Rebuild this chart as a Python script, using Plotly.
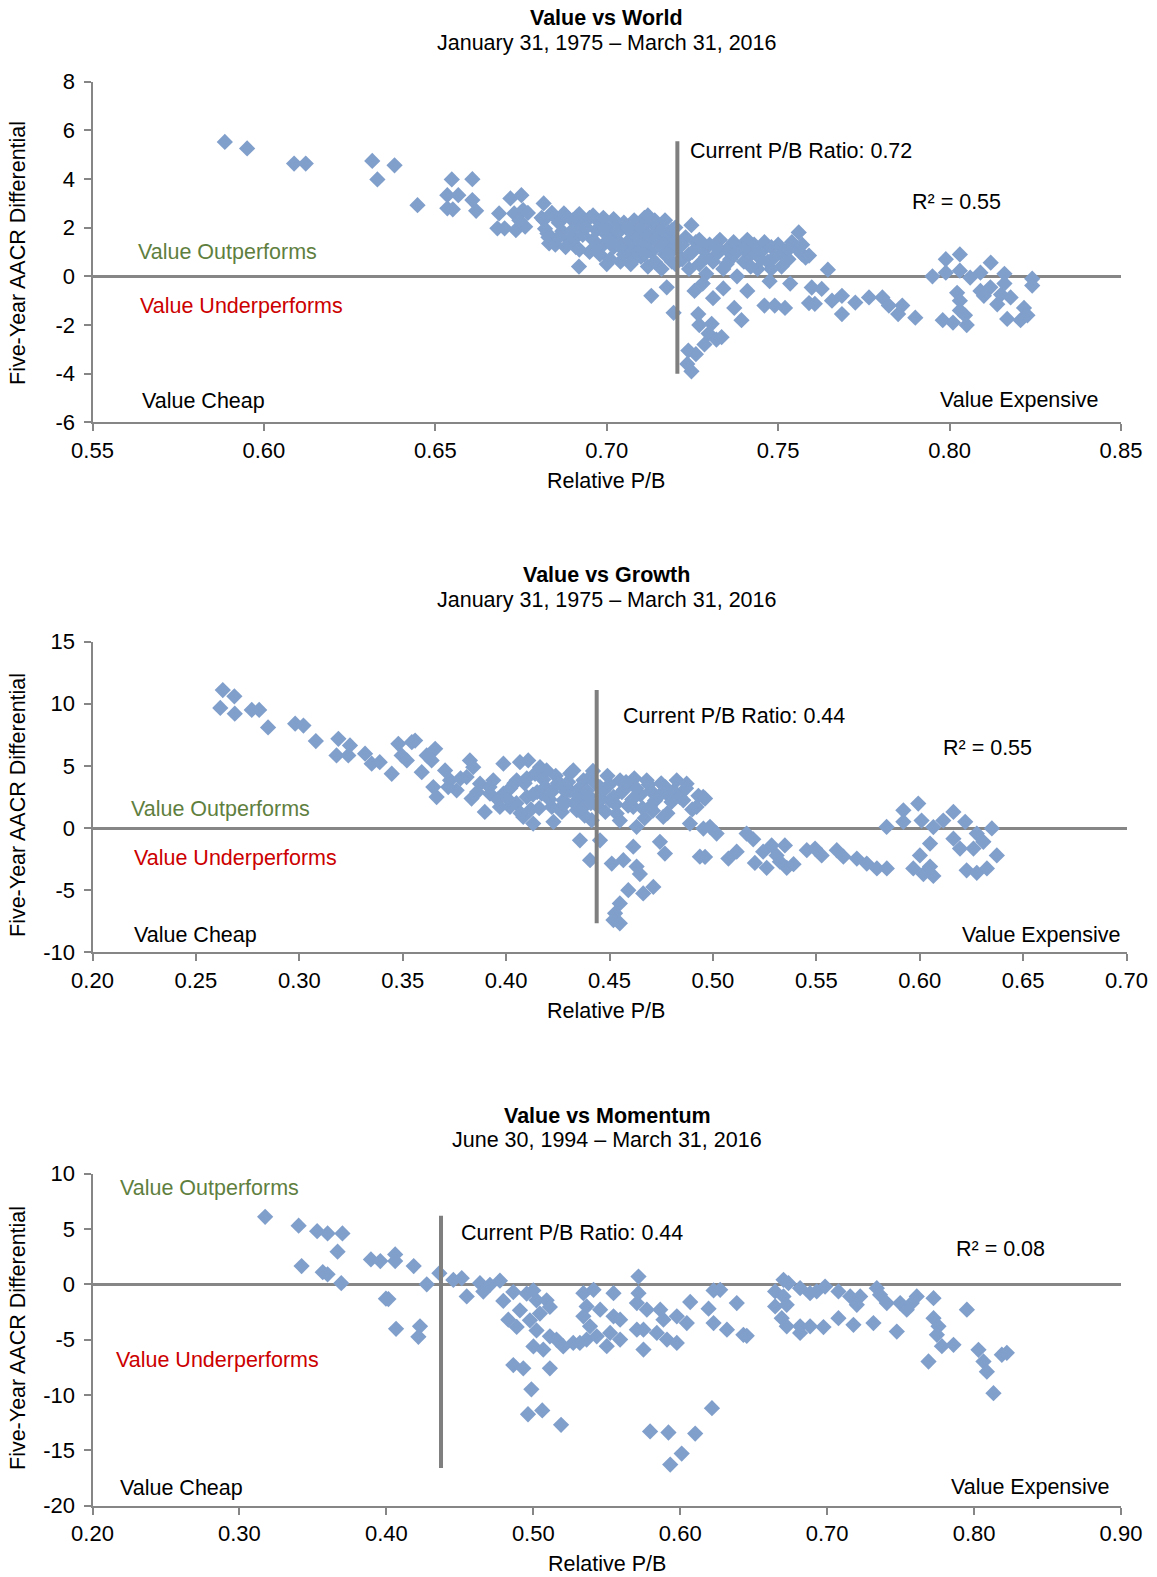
import plotly.graph_objects as go

W, H = 1157, 1577

# ---------------- Data: Value vs World ----------------
world_x = [0.5886, 0.5951, 0.6088, 0.6122, 0.6316, 0.6331, 0.6381, 0.6448, 0.6535, 0.6548,
           0.6567, 0.6535, 0.6551, 0.6608, 0.6608, 0.6619, 0.6681, 0.6686, 0.6719, 0.6751,
           0.6702, 0.6735, 0.673, 0.6762, 0.6756, 0.6745, 0.677, 0.6816, 0.6816, 0.6827,
           0.6832, 0.6848, 0.6875, 0.6902, 0.6913, 0.6919,
           0.681, 0.682, 0.683, 0.684, 0.685, 0.686, 0.687, 0.688, 0.689, 0.690,
           0.690, 0.691, 0.692, 0.693, 0.693, 0.695, 0.695, 0.696, 0.697, 0.698,
           0.698, 0.699, 0.700, 0.700, 0.701, 0.702, 0.702, 0.703, 0.704, 0.704,
           0.705, 0.705, 0.706, 0.707, 0.707, 0.708, 0.708, 0.709, 0.710, 0.710,
           0.711, 0.711, 0.712, 0.712, 0.713, 0.713, 0.714, 0.714, 0.715, 0.715,
           0.716, 0.716, 0.717, 0.717, 0.718, 0.718, 0.719, 0.719, 0.720, 0.720,
           0.694, 0.696, 0.699, 0.701, 0.703, 0.706, 0.709, 0.711, 0.714, 0.716,
           0.718, 0.720, 0.719, 0.717, 0.712, 0.708, 0.704, 0.700, 0.697, 0.692,
           0.688, 0.686,
           0.713, 0.7175, 0.7195,
           0.721, 0.722, 0.723, 0.724, 0.7247, 0.725, 0.726, 0.727, 0.728, 0.729,
           0.730, 0.731, 0.732, 0.733, 0.734, 0.735, 0.736, 0.737, 0.738, 0.739,
           0.740, 0.741, 0.742, 0.743, 0.744, 0.745, 0.746, 0.747, 0.748, 0.749,
           0.750, 0.751, 0.752, 0.753, 0.754, 0.755, 0.756, 0.757, 0.758, 0.759, 0.7645,
           0.722, 0.724, 0.727, 0.729, 0.732, 0.735, 0.738, 0.742, 0.745, 0.748,
           0.751, 0.753, 0.757, 0.740,
           0.7256, 0.7267, 0.7306, 0.7335, 0.7285, 0.7238, 0.7247, 0.7297, 0.7372, 0.7393,
           0.746, 0.749, 0.752, 0.7475, 0.7535, 0.759, 0.728, 0.731, 0.734, 0.741,
           0.727, 0.732, 0.726, 0.7235,
           0.7598, 0.7627, 0.7607, 0.7657, 0.7686, 0.7725, 0.7765, 0.7804, 0.7823, 0.7862,
           0.790, 0.7686, 0.785,
           0.795, 0.7989, 0.803, 0.7989, 0.803, 0.806, 0.809, 0.812, 0.816, 0.8241,
           0.8241, 0.8022, 0.803, 0.803, 0.798, 0.801, 0.805, 0.8045, 0.809, 0.8119,
           0.815, 0.816, 0.8139, 0.8178, 0.8168, 0.8217, 0.8207, 0.8227, 0.810]
world_y = [5.52, 5.25, 4.63, 4.63, 4.74, 3.98, 4.56, 2.92, 3.33, 3.98,
           3.33, 2.79, 2.75, 3.99, 3.13, 2.69, 1.97, 2.58, 3.2, 3.33,
           1.97, 1.9, 2.58, 2.04, 2.72, 2.3, 2.6, 2.99, 2.31, 1.76,
           1.35, 2.45, 2.58, 1.49, 2.45, 0.4,
           2.4, 1.95, 1.6, 2.6, 1.3, 2.2, 1.85, 2.5, 1.5, 2.3,
           1.9, 1.2, 2.55, 1.7, 2.1, 1.0, 2.4, 1.5, 1.9, 0.9,
           2.2, 1.3, 1.7, 2.0, 0.7, 2.35, 1.2, 1.5, 0.6, 1.9,
           2.2, 0.9, 1.4, 1.8, 0.5, 2.3, 1.1, 1.6, 2.0, 0.8,
           1.3, 2.4, 0.4, 1.7, 2.2, 1.0, 1.5, 0.6, 1.9, 2.1,
           1.2, 0.3, 1.6, 0.9, 1.3, 1.8, 0.6, 1.1, 1.5, 0.5,
           2.0, 2.5, 2.4, 1.4, 1.9, 2.0, 1.0, 0.9, 2.3, 1.9,
           0.9, 2.0, 1.9, 2.3, 2.5, 0.7, 1.2, 0.5, 1.2, 1.1,
           1.2, 1.6,
           -0.8, -0.45, -1.5,
           1.2, 0.7, 1.6, 0.3, 2.1, 1.0, 1.4, 0.5, 1.1, 0.1,
           1.3, 0.6, 0.9, 1.5, 0.3, 1.1, 0.7, 1.4, 0.0, 1.2,
           0.6, 1.5, 0.9, 1.3, 0.3, 1.0, 1.4, 0.6, 1.2, 0.8,
           1.3, 0.4, 1.0, 0.7, 1.4, 1.2, 1.8, 0.9, 0.77, 0.85, 0.27,
           1.3, 0.9, 1.5, 0.8, 1.2, 0.5, 1.0, 0.4, 0.7, 0.3,
           0.9, 1.1, 1.3, 1.1,
           -0.6, -1.55, -1.95, -2.5, -2.8, -3.05, -3.9, -2.35, -1.3, -1.8,
           -1.2, -1.2, -1.3, -0.2, -0.3, -1.1, -0.3, -0.9, -0.5, -0.6,
           -2.0, -2.6, -3.2, -3.6,
           -0.46, -0.52, -1.13, -1.0, -0.8, -1.08, -0.87, -0.87, -1.2, -1.2,
           -1.7, -1.55, -1.55,
           0.0, 0.7, 0.9, 0.15, 0.23, -0.05, 0.15, 0.56, 0.1, -0.1,
           -0.38, -0.68, -1.0, -1.4, -1.8, -1.9, -2.0, -1.6, -0.6, -0.45,
           -0.75, -0.3, -1.15, -0.87, -1.75, -1.3, -1.8, -1.6, -0.8]

# ---------------- Data: Value vs Growth ----------------
growth_x = [0.263, 0.2686, 0.2618, 0.2688, 0.277, 0.2806, 0.2849, 0.298,
            0.302, 0.308, 0.3189, 0.318, 0.3245, 0.3237, 0.3318, 0.335, 0.3389, 0.3447,
            0.3479, 0.3495, 0.3544, 0.356, 0.352, 0.3592, 0.3616, 0.3657, 0.364, 0.3664,
            0.3648, 0.3705, 0.3761, 0.3729, 0.3825, 0.3841, 0.3809, 0.3874, 0.3833, 0.3897,
            0.3922, 0.3938, 0.3987, 0.3987, 0.4019, 0.397, 0.4067, 0.4107, 0.4051, 0.41,
            0.4083, 0.4131, 0.414, 0.4164, 0.4196, 0.4172, 0.4221, 0.4229, 0.4261, 0.4277,
            0.4325, 0.4309, 0.4342, 0.4374, 0.4406, 0.4382, 0.4414, 0.4357, 0.4406, 0.4454,
            0.4454, 0.4502, 0.4551, 0.4535, 0.4511, 0.4567, 0.4615, 0.4631, 0.4647, 0.4712,
            0.4663, 0.4591, 0.455, 0.4527, 0.4519, 0.455, 0.46, 0.4615, 0.4631, 0.468,
            0.4696, 0.4744, 0.4768, 0.476, 0.4776, 0.4825, 0.4857, 0.4873, 0.4889, 0.4921,
            0.4937, 0.4953, 0.4986,
            0.372, 0.378, 0.386, 0.392, 0.396, 0.402, 0.405, 0.409, 0.412, 0.415,
            0.418, 0.421, 0.424, 0.427, 0.429, 0.431, 0.433, 0.436, 0.438, 0.440,
            0.442, 0.444, 0.447, 0.449, 0.452, 0.455, 0.457, 0.459, 0.462, 0.465,
            0.467, 0.470, 0.472, 0.475, 0.478, 0.481, 0.484, 0.487, 0.490, 0.493,
            0.401, 0.404, 0.407, 0.410, 0.413, 0.416, 0.419, 0.422, 0.425, 0.428,
            0.430, 0.434, 0.437, 0.439, 0.441, 0.443, 0.446, 0.448, 0.450, 0.453,
            0.456, 0.458, 0.461, 0.463, 0.466, 0.469, 0.471, 0.474, 0.477, 0.480,
            0.4962, 0.4954, 0.5018, 0.4962, 0.5075, 0.5115, 0.5163, 0.5195, 0.5203, 0.5243,
            0.526, 0.5284, 0.5308, 0.5348, 0.5357, 0.539, 0.5324, 0.5454, 0.5494, 0.5526,
            0.5599, 0.5631, 0.5696, 0.5744, 0.5793, 0.5841, 0.584, 0.5921, 0.5921, 0.5993,
            0.6009, 0.6066, 0.6114, 0.6163, 0.622, 0.6276, 0.6349, 0.6308, 0.6163, 0.6195,
            0.626, 0.6373, 0.6227, 0.6276, 0.6325, 0.605, 0.6001, 0.5969, 0.6018, 0.6066,
            0.605]
growth_y = [11.1, 10.6, 9.66, 9.2, 9.5, 9.5, 8.1, 8.4,
            8.25, 7.0, 7.18, 5.84, 6.65, 5.84, 5.98, 5.18, 5.3, 4.37,
            6.78, 5.84, 6.91, 7.04, 5.44, 4.5, 5.84, 6.38, 5.44, 2.5,
            3.3, 4.64, 3.04, 3.84, 5.44, 4.9, 4.1, 3.57, 2.37, 1.3,
            2.77, 3.84, 5.18, 2.77, 1.7, 1.7, 5.3, 5.44, 3.84, 2.5,
            0.9, 0.36, 4.37, 4.9, 4.64, 2.77, 1.7, 0.5, 3.57, 2.23,
            4.64, 3.04, 1.44, 3.84, 4.1, 2.23, 0.63, -0.98, -2.58, -0.98,
            3.3, 2.23, 3.84, 1.17, -2.85, -2.58, -1.5, -3.1, -3.7, -4.73,
            -5.26, -5.0, -6.06, -6.86, -7.4, -7.66, 3.57, 1.7, 0.1, 3.84,
            1.7, -1.1, -2.05, 0.9, 2.77, 3.84, 2.23, 3.57, 0.36, 1.7,
            -2.3, 2.5, 0.1,
            3.3, 4.0, 2.9, 3.3, 2.3, 3.2, 2.0, 3.6, 1.5, 2.9,
            3.9, 2.3, 4.2, 1.3, 2.9, 4.4, 2.0, 3.3, 1.0, 2.6,
            4.6, 1.8, 3.0, 4.2, 2.5, 0.6, 3.1, 1.8, 4.0, 2.7,
            0.8, 3.0, 2.2, 3.6, 1.2, 3.0, 2.5, 3.2, 1.5, 2.6,
            2.3, 3.6, 1.2, 4.0, 2.7, 1.6, 3.3, 2.9, 3.6, 1.9,
            3.7, 2.7, 1.6, 3.0, 2.0, 3.6, 2.3, 1.3, 3.5, 1.9,
            2.9, 3.7, 2.3, 3.2, 1.6, 3.5, 1.4, 2.6, 3.3, 2.1,
            2.37, -0.04, -0.44, -2.32, -2.45, -1.9, -0.44, -0.9, -2.8, -1.9,
            -3.2, -1.4, -2.2, -1.4, -3.2, -2.9, -2.7, -1.78, -1.65, -2.2,
            -1.78, -2.3, -2.45, -2.85, -3.25, -3.25, 0.09, 1.43, 0.5, 1.97,
            0.6, 0.08, 0.6, 1.3, 0.5, -0.44, -0.03, -1.1, -0.85, -1.65,
            -1.65, -2.2, -3.4, -3.6, -3.25, -1.25, -2.2, -3.25, -3.7, -3.85,
            -3.1]

# ---------------- Data: Value vs Momentum ----------------
mom_x = [0.3175, 0.3403, 0.3529, 0.36, 0.3701, 0.3668, 0.3423, 0.3567, 0.36, 0.3693,
         0.3895, 0.3959, 0.3997, 0.406, 0.406, 0.4186,
         0.4014, 0.4066, 0.4229, 0.4218, 0.4275, 0.4361, 0.4456, 0.4513, 0.4547, 0.4637,
         0.466, 0.4705, 0.4773, 0.4796, 0.483, 0.4864, 0.4909, 0.4887, 0.4955, 0.5,
         0.5022, 0.5045, 0.5091, 0.5113, 0.4977, 0.5022, 0.5001, 0.5068, 0.5113, 0.5158,
         0.5204, 0.5272, 0.5317, 0.5363, 0.4864, 0.4932, 0.5113, 0.4987, 0.4964, 0.5061,
         0.5189, 0.5341, 0.541, 0.5546, 0.5363, 0.5341, 0.5386, 0.5455, 0.5546, 0.5523,
         0.5591, 0.5591, 0.55, 0.5432, 0.5716, 0.5716, 0.5705, 0.5773, 0.5864, 0.5886,
         0.575, 0.5705, 0.575, 0.5841, 0.591, 0.5977, 0.6045, 0.5977, 0.6068, 0.6193,
         0.6227, 0.6227, 0.5795, 0.592, 0.6102, 0.601, 0.5932, 0.6216,
         0.6272, 0.6385, 0.6318, 0.643, 0.6453, 0.6703, 0.6737, 0.6646, 0.6703, 0.6646,
         0.6725, 0.6691, 0.6725, 0.6816, 0.6884, 0.6929, 0.6986, 0.6816, 0.6816, 0.6884,
         0.6975, 0.7077, 0.7157, 0.7077, 0.7179, 0.7225, 0.7202, 0.7315, 0.7338, 0.736,
         0.7406, 0.7474, 0.7497, 0.7542, 0.761, 0.7576, 0.7724, 0.769, 0.7724, 0.7758,
         0.7747, 0.7781, 0.786, 0.7951, 0.803, 0.8064, 0.8087, 0.8132, 0.8189, 0.8223]
mom_y = [6.1, 5.3, 4.8, 4.6, 4.6, 2.95, 1.65, 1.1, 0.9, 0.1,
         2.25, 2.1, -1.3, 2.7, 2.1, 1.65,
         -1.34, -4.02, -3.8, -4.75, 0.0, 1.0, 0.4, 0.55, -1.1, 0.1,
         -0.66, -0.05, 0.33, -1.5, -3.2, -0.7, -2.35, -3.86, -0.85, -0.55,
         -1.45, -2.65, -1.45, -2.05, -3.26, -4.17, -5.62, -5.9, -4.7, -5.0,
         -5.62, -5.3, -5.3, -5.0, -7.3, -7.6, -7.6, -9.5, -11.75, -11.4,
         -12.7, -0.8, -0.5, -0.8, -2.0, -2.9, -3.8, -2.3, -2.9, -4.4,
         -3.2, -5.0, -5.6, -4.7, 0.7, -0.8, -1.7, -2.3, -2.3, -3.2,
         -4.1, -4.1, -5.9, -4.4, -5.0, -2.9, -3.5, -5.3, -1.6, -2.2,
         -0.55, -3.5, -13.3, -13.4, -13.5, -15.3, -16.3, -11.2,
         -0.5, -1.7, -4.1, -4.57, -4.66, 0.41, 0.1, -0.65, -1.1, -2.0,
         -1.85, -3.06, -3.8, -0.35, -0.8, -0.65, -0.2, -3.8, -4.4, -3.8,
         -3.87, -0.65, -1.1, -3.06, -3.66, -1.1, -1.85, -3.5, -0.35, -0.95,
         -1.7, -4.27, -1.7, -2.3, -1.1, -1.7, -1.25, -6.98, -3.06, -3.8,
         -4.57, -5.6, -5.47, -2.3, -5.92, -6.98, -7.9, -9.84, -6.37, -6.2]

# current P/B marker lines (x value, y extent)
current_pb = [0.7206, 0.4438, 0.4372]
current_line_y = [[5.55, -4.0], [11.1, -7.66], [6.2, -16.6]]

titles = ["Value vs World", "Value vs Growth", "Value vs Momentum"]
subtitles = ["January 31, 1975 \u2013 March 31, 2016",
             "January 31, 1975 \u2013 March 31, 2016",
             "June 30, 1994 \u2013 March 31, 2016"]
current_labels = ["Current P/B Ratio: 0.72", "Current P/B Ratio: 0.44", "Current P/B Ratio: 0.44"]
r2_labels = ["R\u00b2 = 0.55", "R\u00b2 = 0.55", "R\u00b2 = 0.08"]

x_ranges = [[0.55, 0.85], [0.20, 0.70], [0.20, 0.90]]
y_ranges = [[-6, 8], [-10, 15], [-20, 10]]
x_tickvals = [[0.55, 0.60, 0.65, 0.70, 0.75, 0.80, 0.85],
              [0.20, 0.25, 0.30, 0.35, 0.40, 0.45, 0.50, 0.55, 0.60, 0.65, 0.70],
              [0.20, 0.30, 0.40, 0.50, 0.60, 0.70, 0.80, 0.90]]
x_ticktext = [["0.55", "0.60", "0.65", "0.70", "0.75", "0.80", "0.85"],
              ["0.20", "0.25", "0.30", "0.35", "0.40", "0.45", "0.50", "0.55", "0.60", "0.65", "0.70"],
              ["0.20", "0.30", "0.40", "0.50", "0.60", "0.70", "0.80", "0.90"]]
y_tickvals = [[-6, -4, -2, 0, 2, 4, 6, 8],
              [-10, -5, 0, 5, 10, 15],
              [-20, -15, -10, -5, 0, 5, 10]]
y_ticktext = [["-6", "-4", "-2", "0", "2", "4", "6", "8"],
              ["-10", "-5", "0", "5", "10", "15"],
              ["-20", "-15", "-10", "-5", "0", "5", "10"]]

# ---------------- Layout geometry (pixels) ----------------
plot_left = [92.5, 92.5, 92.5]
plot_right = [1121, 1126.5, 1121]
plot_top = [81.5, 641.6, 1173.7]
plot_bottom = [422.4, 952.4, 1505.5]

FONT = "Liberation Sans, Arial, sans-serif"
MARKER = "#819fcb"
AXIS = "#868686"
FS = 21.5
TFS = 22

def px(xp):
    return xp / W

def py(yp):
    return 1 - yp / H

fig = go.Figure()
datasets = [(world_x, world_y), (growth_x, growth_y), (mom_x, mom_y)]
for i, (xs, ys) in enumerate(datasets):
    ax = "" if i == 0 else str(i + 1)
    fig.add_trace(go.Scatter(x=xs, y=ys, mode="markers", xaxis="x" + ax, yaxis="y" + ax,
                             marker=dict(symbol="diamond", size=12.5, color=MARKER,
                                         line=dict(width=0)),
                             hoverinfo="skip"))
    fig.add_trace(go.Scatter(x=[current_pb[i], current_pb[i]], y=current_line_y[i],
                             mode="lines", xaxis="x" + ax, yaxis="y" + ax,
                             line=dict(color="#7f7f7f", width=4), hoverinfo="skip"))

layout = dict(width=W, height=H, margin=dict(l=0, r=0, t=0, b=0, autoexpand=False),
              paper_bgcolor="white", plot_bgcolor="white", showlegend=False,
              font=dict(family=FONT, size=FS, color="black"))
for i in range(3):
    ax = "" if i == 0 else str(i + 1)
    layout["xaxis" + ax] = dict(domain=[px(plot_left[i]), px(plot_right[i])],
                                range=x_ranges[i], tickmode="array",
                                tickvals=x_tickvals[i], ticktext=x_ticktext[i],
                                showgrid=False, zeroline=False, automargin=False,
                                showline=True, linecolor=AXIS, linewidth=2,
                                ticks="outside", ticklen=7, tickwidth=2, tickcolor=AXIS,
                                tickfont=dict(size=TFS, family=FONT, color="black"),
                                anchor="y" + ax, fixedrange=True)
    layout["yaxis" + ax] = dict(domain=[py(plot_bottom[i]), py(plot_top[i])],
                                range=y_ranges[i], tickmode="array",
                                tickvals=y_tickvals[i], ticktext=y_ticktext[i],
                                showgrid=False, zeroline=True, zerolinecolor=AXIS,
                                zerolinewidth=2.5, automargin=False,
                                showline=True, linecolor=AXIS, linewidth=2,
                                ticks="outside", ticklen=7, tickwidth=2, tickcolor=AXIS,
                                ticklabelstandoff=4,
                                tickfont=dict(size=TFS, family=FONT, color="black"),
                                anchor="x" + ax, fixedrange=True)
fig.update_layout(**layout)

ann = []
def add_text(text, xp, yp, xanchor="left", color="black", size=FS, bold=False, angle=0):
    ann.append(dict(text=("<b>%s</b>" % text) if bold else text, x=px(xp), y=py(yp),
                    xref="paper", yref="paper", xanchor=xanchor, yanchor="middle",
                    showarrow=False, textangle=angle,
                    font=dict(family=FONT, size=size, color=color)))

GREEN = "#5f7f3f"
RED = "#cc0000"
title_y = [18, 575, 1115.5]
sub_y = [43.5, 600.5, 1139.5]
xt_y = [481, 1011, 1564]
yt_y = [253, 805, 1338]
cur_pos = [(688, 151), (621, 716), (459, 1233)]
r2_pos = [(910, 202), (941, 747.5), (954, 1248.5)]
out_pos = [(136, 251.5), (129, 809), (118, 1188)]
under_pos = [(138, 306), (132, 858), (114, 1360)]
cheap_pos = [(140, 401), (132, 934.5), (118, 1488)]
exp_pos = [(1100.5, 400), (1122.5, 934.5), (1111.5, 1487)]
centers = [606, 606, 607]

for i in range(3):
    add_text(titles[i], centers[i], title_y[i], xanchor="center", bold=True)
    add_text(subtitles[i], centers[i], sub_y[i], xanchor="center")
    add_text("Relative P/B", centers[i], xt_y[i], xanchor="center")
    add_text("Five-Year AACR Differential", 18, yt_y[i], xanchor="center", angle=-90)
    add_text(current_labels[i], *cur_pos[i])
    add_text(r2_labels[i], *r2_pos[i])
    add_text("Value Outperforms", *out_pos[i], color=GREEN)
    add_text("Value Underperforms", *under_pos[i], color=RED)
    add_text("Value Cheap", *cheap_pos[i])
    add_text("Value Expensive", *exp_pos[i], xanchor="right")

fig.update_layout(annotations=ann)
fig.write_html("out.html", config={"displayModeBar": False},
               post_script="document.body.style.margin='0';document.body.style.padding='0';")
